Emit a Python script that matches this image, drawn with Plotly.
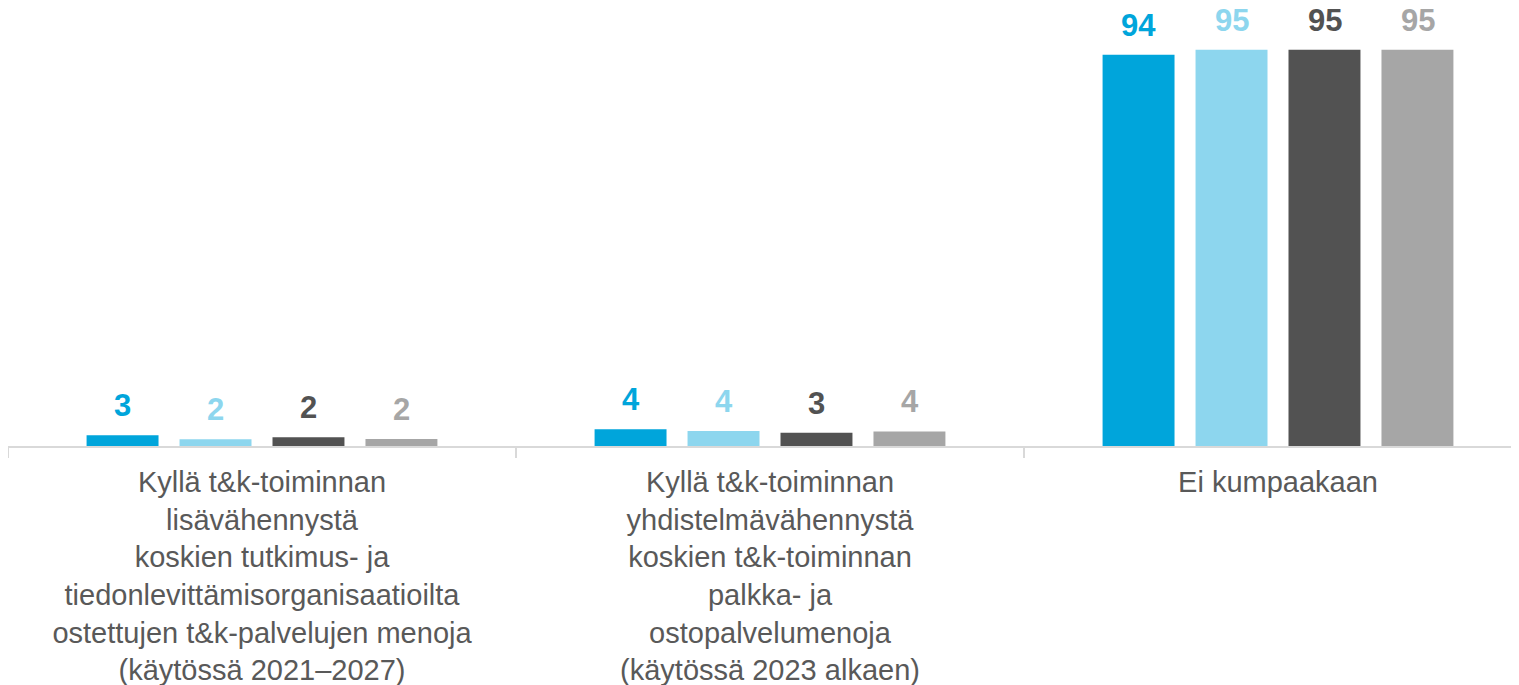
import plotly.graph_objects as go

categories = [
    "Kyllä t&amp;k-toiminnan<br>lisävähennystä<br>koskien tutkimus- ja<br>tiedonlevittämisorganisaatioilta<br>ostettujen t&amp;k-palvelujen menoja<br>(käytössä 2021–2027)",
    "Kyllä t&amp;k-toiminnan<br>yhdistelmävähennystä<br>koskien t&amp;k-toiminnan<br>palkka- ja<br>ostopalvelumenoja<br>(käytössä 2023 alkaen)",
    "Ei kumpaakaan",
]
series_names = ["Sarja 1", "Sarja 2", "Sarja 3", "Sarja 4"]
values_s1 = [2.6, 4.0, 93.8]
values_s2 = [1.6, 3.6, 95.0]
values_s3 = [2.1, 3.2, 95.0]
values_s4 = [1.7, 3.5, 95.0]
series_values = [values_s1, values_s2, values_s3, values_s4]
colors = ["#00A5DB", "#8DD6EE", "#525252", "#A6A6A6"]

fig = go.Figure()
for name, vals, col in zip(series_names, series_values, colors):
    fig.add_trace(go.Bar(name=name, x=categories, y=vals, marker_color=col,
                         marker_line_width=0, showlegend=False, hoverinfo="x+y"))

slot_px = 93
annotations = []
for i, (vals, col) in enumerate(zip(series_values, colors)):
    for c, v in zip(categories, vals):
        annotations.append(dict(
            x=c, y=v, xref="x", yref="y", text=f"<b>{round(v):d}</b>",
            showarrow=False, yanchor="bottom", xanchor="center",
            xshift=(i - 1.5) * slot_px, yshift=11, borderpad=0,
            font=dict(family="Liberation Sans, Arial", size=31, color=col)))

fig.update_layout(
    width=1519, height=685,
    margin=dict(l=0, r=0, t=12, b=247),
    paper_bgcolor="white", plot_bgcolor="white",
    barmode="group", bargap=0.268, bargroupgap=0.226,
    annotations=annotations,
    font=dict(family="Liberation Sans, Arial", color="#595959"),
    xaxis=dict(
        type="category", range=[-0.5, -0.5 + 1519 / 508],
        showline=True, linecolor="#D9D9D9", linewidth=2,
        ticks="outside", tickson="boundaries", ticklen=10, tickwidth=2, tickcolor="#D9D9D9",
        ticklabelstandoff=9,
        tickfont=dict(family="Liberation Sans, Arial", size=29, color="#595959"),
        showgrid=False, zeroline=False, fixedrange=True,
    ),
    yaxis=dict(range=[0, 426 / 4.17], visible=False, showgrid=False, zeroline=False, fixedrange=True),
)

fig.write_html("out.html")
